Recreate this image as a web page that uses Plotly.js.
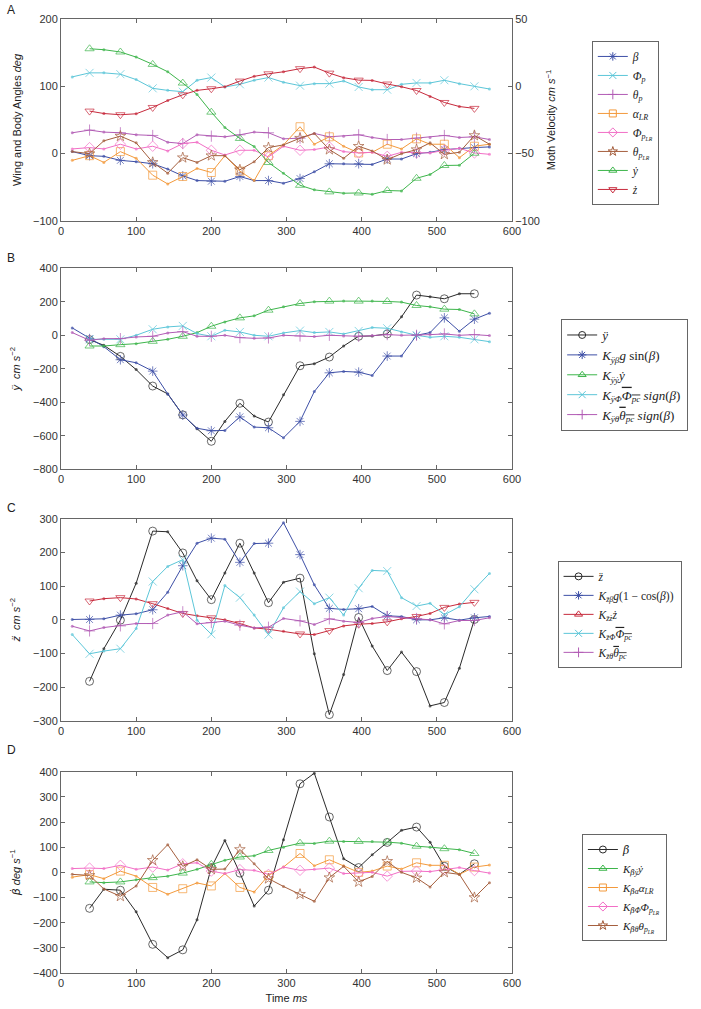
<!DOCTYPE html>
<html>
<head>
<meta charset="utf-8">
<script src="https://cdn.plot.ly/plotly-3.0.1.min.js"></script>
<style>
  html, body { margin: 0; padding: 0; background: #fff; overflow: hidden; }
  #plot { width: 701px; height: 1009px; }
</style>
</head>
<body>
<div id="plot"></div>
<script>
// time samples (ms), shared by every panel
const time = [15, 38, 57, 79, 100, 122, 142, 162, 181, 200, 218, 238, 257, 276, 296,
              318, 337, 357, 376, 396, 414, 434, 453, 473, 491, 510, 530, 550, 570];

// A: wing and body angles (deg) and moth velocity (cm/s, right axis)
const beta     = [3, -3, -4, -10, -12, -15, -23, -33, -40, -41, -41, -34, -40, -40, -44, -37, -27, -15, -15, -15, -16, -8, -8, 0, 2, 6, 8, 9, 10];
const phiP     = [114, 120, 120, 118, 110, 97, 94, 92, 109, 113, 99, 103, 109, 113, 106, 101, 104, 104, 108, 99, 95, 95, 103, 105, 105, 109, 104, 100, 96];
const thetaP   = [31, 35, 32, 31, 28, 27, 17, 15, 28, 26, 25, 28, 32, 31, 22, 23, 30, 25, 26, 28, 24, 21, 21, 23, 24, 27, 24, 25, 21];
const alphaLR  = [-10, -3, -13, 3, -7, -32, -45, -34, -22, -28, -3, -26, -40, -3, 13, 40, 14, 25, 11, 1, 2, 14, 7, 22, 14, 14, -6, 11, 14];
const phiPLR   = [7, 9, 7, 14, 7, 11, 4, 15, 17, 5, -2, 5, 5, -5, 11, 5, 6, 10, 3, 1, 2, -4, 2, 1, 1, 5, 8, 1, -1];
const thetaPLR = [3, 0, 19, 26, 16, -13, -29, -6, -13, -3, -3, -24, -12, 9, 13, 23, 30, 6, -7, 11, 4, -9, 0, 6, 16, -1, 2, 27, 14];
const yDot     = [null, 27.9, 27.2, 25.5, 21.7, 16.3, 10.8, 2.4, -6, -19.2, -30.6, -38.7, -44.7, -56.6, -64.5, -73.5, -76.9, -78.4, -79.4, -79.2, -80.2, -77.4, -77.7, -68.3, -65.5, -58.8, -58.6, -49.7, null];
const zDot     = [null, -18.4, -20.2, -21.1, -20.4, -15.7, -10.5, -6.3, -3, -1.8, -0.3, 3.9, 7.4, 9.3, 10.8, 13.1, 14.3, 9.8, 6.4, 4.6, 4.4, 1.7, -0.3, -3.1, -7.5, -12, -15, -16.4, null];

// B: lateral acceleration terms
const yDDot   = [null, -26, -60, -126, -205, -303, -350, -475, -558, -633, -514, -406, -482, -518, -355, -182, -170, -130, -64, -6, -4, 8, 110, 240, 230, 218, 248, 248, null];
const kYBeta  = [44, -20, -68, -146, -164, -214, -350, -476, -555, -570, -568, -487, -548, -552, -612, -514, -336, -224, -216, -220, -240, -124, -124, 0, 16, 104, 24, 96, 132];
const kYY     = [null, -64, -64, -56, -50, -36, -24, -6, 16, 54, 80, 104, 116, 150, 170, 190, 200, 204, 204, 204, 204, 202, 198, 178, 170, 156, 154, 128, null];
const kYPhi   = [null, -24, -24, -24, 0, 36, 50, 56, 10, -6, 30, 20, 0, -6, 14, 28, 16, 20, 8, 26, 46, 42, 20, 0, -12, -6, -12, -24, -38];
const kYTheta = [16, -30, -20, -20, -10, -6, 14, 22, -6, -6, 0, -14, -18, -16, 0, -4, -8, 0, -4, -6, -2, 4, 0, 0, 4, 8, 0, 4, -2];

// C: vertical acceleration terms
const zDDot   = [null, -183, -86, -1, 109, 264, 262, 199, 116, 60, 139, 228, 139, 51, 112, 124, -101, -282, -163, 7, -78, -151, -96, -154, -256, -246, -144, 1, null];
const kZBeta  = [1, 1, 3, 14, 18, 30, 82, 161, 228, 243, 240, 171, 227, 228, 289, 194, 104, 34, 31, 33, 40, 12, 10, 0, 0, 6, -1, 6, 10];
const kZZ     = [null, 56, 63, 66, 62, 48, 34, 19, 12, 6, 0, -11, -24, -28, -34, -42, -44, -32, -18, -13, -11, -6, 3, 10, 19, 37, 47, 52, null];
const kZPhi   = [-44, -101, -93, -86, -26, 114, 159, 179, -1, -43, 102, 66, 14, -44, 36, 84, 48, 66, 14, 94, 147, 145, 66, 41, 49, 15, 39, 91, 138];
const kZTheta = [-19, -33, -23, -18, -11, -11, 14, 24, -12, -8, -4, -16, -24, -22, 4, -3, -14, 3, -4, -8, 4, 10, 6, 4, 0, -12, -2, -2, 6];

// D: roll rate terms
const betaDot = [null, -143, -67, -71, -157, -286, -339, -308, -188, 19, 127, -3, -134, -71, 130, 352, 394, 220, 54, 19, 70, 119, 167, 180, 120, 24, -8, 34, null];
const kBY     = [null, -38, -41, -38, -29, -21, -15, -3, 12, 32, 48, 61, 66, 87, 100, 116, 115, 124, 123, 123, 123, 120, 116, 104, 100, 94, 90, 75, null];
const kBAlpha = [-19, -9, -25, 5, -15, -60, -87, -65, -42, -54, -5, -60, -78, -12, 21, 75, 26, 50, 26, 0, 5, 25, 13, 38, 28, 28, -8, 21, 29];
const kBPhi   = [15, 17, 15, 28, 12, 21, 9, 34, 38, 5, -5, 11, 8, -8, 21, 8, 12, 17, -5, -3, 0, -15, 4, 5, 3, 11, 19, 7, -3];
const kBTheta = [-8, -12, -66, -95, -54, 48, 110, 24, 50, 12, 13, 91, 34, -25, -56, -87, -115, -21, 24, -38, -16, 44, 0, -22, -58, 0, -8, -100, -41];

// colours
const cBlue = '#3d4fa6', cCyan = '#5cc6d8', cPurple = '#b25cb5', cOrange = '#f39a3c',
      cPink = '#f26fc6', cBrown = '#a55f3e', cGreen = '#3db54b', cRed = '#c72a3c', cBlack = '#2a2a2a';

const traces = [];

// one series: line with small dots, a big symbol every second sample,
// plus an empty trace that only carries the legend entry
function series(ys, name, color, symbol, legend, xa, ya, legendSymbol) {
    traces.push({
        x: time, y: ys, xaxis: xa, yaxis: ya,
        mode: 'lines+markers', showlegend: false,
        line: { color: color, width: 1 },
        marker: {
            color: color,
            symbol: time.map((t, i) => i % 2 === 1 ? symbol : 'circle'),
            size: time.map((t, i) => i % 2 === 1 ? 8 : 3),
            line: { width: 0 }
        },
        hoverinfo: 'skip'
    });
    traces.push({
        x: [null], y: [null], xaxis: xa, yaxis: ya,
        mode: 'lines+markers', name: name, legend: legend,
        line: { color: color, width: 1 },
        marker: { color: color, symbol: legendSymbol || symbol, size: 7, line: { width: 0 } }
    });
}

const ov = s => '<span style="text-decoration:overline">' + s + '</span>';
// dotted beta needs a font with good combining marks
const bDot = '<span style="font-family:DejaVu Serif">β̇</span>';

series(beta,     '<i>β</i>', cBlue, 'asterisk-open', 'legend', 'x', 'y');
series(phiP,     '<i>Φ<sub>p</sub></i>', cCyan, 'x-thin-open', 'legend', 'x', 'y');
series(thetaP,   '<i>θ<sub>p</sub></i>', cPurple, 'cross-thin-open', 'legend', 'x', 'y');
series(alphaLR,  '<i>α<sub>LR</sub></i>', cOrange, 'square-open', 'legend', 'x', 'y');
series(phiPLR,   '<i>Φ<sub>p<sub>LR</sub></sub></i>', cPink, 'diamond-open', 'legend', 'x', 'y');
series(thetaPLR, '<i>θ<sub>p<sub>LR</sub></sub></i>', cBrown, 'star-open', 'legend', 'x', 'y');
series(yDot,     '<i>ẏ</i>', cGreen, 'triangle-up-open', 'legend', 'x', 'y2');
series(zDot,     '<i>ż</i>', cRed, 'triangle-down-open', 'legend', 'x', 'y2');

series(yDDot,   '<i>ÿ</i>', cBlack, 'circle-open', 'legend2', 'x2', 'y3');
series(kYBeta,  '<i>K<sub>ÿβ</sub>g</i> sin(<i>β</i>)', cBlue, 'asterisk-open', 'legend2', 'x2', 'y3');
series(kYY,     '<i>K<sub>ÿẏ</sub>ẏ</i>', cGreen, 'triangle-up-open', 'legend2', 'x2', 'y3');
series(kYPhi,   '<i>K<sub>ÿΦ</sub>' + ov('Φ<sub>pc</sub>') + ' sign</i>(<i>β</i>)', cCyan, 'x-thin-open', 'legend2', 'x2', 'y3');
series(kYTheta, '<i>K<sub>ÿθ</sub>' + ov('θ<sub>pc</sub>') + ' sign</i>(<i>β</i>)', cPurple, 'cross-thin-open', 'legend2', 'x2', 'y3');

series(zDDot,   '<i>z̈</i>', cBlack, 'circle-open', 'legend3', 'x3', 'y4');
series(kZBeta,  '<i>K<sub>z̈β</sub>g</i>(1 − cos(<i>β</i>))', cBlue, 'asterisk-open', 'legend3', 'x3', 'y4');
series(kZZ,     '<i>K<sub>z̈ż</sub>ż</i>', cRed, 'triangle-down-open', 'legend3', 'x3', 'y4', 'triangle-up-open');
series(kZPhi,   '<i>K<sub>z̈Φ</sub>' + ov('Φ<sub>pc</sub>') + '</i>', cCyan, 'x-thin-open', 'legend3', 'x3', 'y4');
series(kZTheta, '<i>K<sub>z̈θ</sub>' + ov('θ<sub>pc</sub>') + '</i>', cPurple, 'cross-thin-open', 'legend3', 'x3', 'y4');

series(betaDot, '<i>' + bDot + '</i>', cBlack, 'circle-open', 'legend4', 'x4', 'y5');
series(kBY,     '<i>K<sub>' + bDot + 'ẏ</sub>ẏ</i>', cGreen, 'triangle-up-open', 'legend4', 'x4', 'y5');
series(kBAlpha, '<i>K<sub>' + bDot + 'α</sub>α<sub>LR</sub></i>', cOrange, 'square-open', 'legend4', 'x4', 'y5');
series(kBPhi,   '<i>K<sub>' + bDot + 'Φ</sub>Φ<sub>p<sub>LR</sub></sub></i>', cPink, 'diamond-open', 'legend4', 'x4', 'y5');
series(kBTheta, '<i>K<sub>' + bDot + 'θ</sub>θ<sub>p<sub>LR</sub></sub></i>', cBrown, 'star-open', 'legend4', 'x4', 'y5');

const tickFont = { family: 'Liberation Sans, Arial, sans-serif', size: 11, color: '#333' };
const axisBase = {
    showline: true, linecolor: '#666', linewidth: 1, mirror: 'ticks',
    ticks: 'inside', ticklen: 4, tickcolor: '#666', automargin: false,
    showgrid: false, zeroline: false, tickfont: tickFont
};
const xBase = Object.assign({}, axisBase, { range: [0, 600], dtick: 100, domain: [0, 1] });
const titleFont = { family: 'Liberation Sans, Arial, sans-serif', size: 11, color: '#222' };
const legendFont = size => ({ family: 'Liberation Serif, serif', size: size, color: '#222' });
const legendBase = {
    bgcolor: '#fff', bordercolor: '#666', borderwidth: 1,
    xanchor: 'left', yanchor: 'top', tracegroupgap: 0
};
const panelFont = { family: 'Liberation Sans, Arial, sans-serif', size: 12, color: '#222' };

const layout = {
    width: 701, height: 1009, autosize: false,
    margin: { l: 61, r: 189, t: 19, b: 36 },
    paper_bgcolor: '#fff', plot_bgcolor: '#fff',
    showlegend: true,
    xaxis:  Object.assign({}, xBase, { anchor: 'y' }),
    yaxis:  Object.assign({}, axisBase, { domain: [0.7883, 1], range: [-100, 200], dtick: 100, anchor: 'x', mirror: true,
              title: { text: 'Wing and Body Angles <i>deg</i>', font: titleFont, standoff: 9 } }),
    yaxis2: Object.assign({}, axisBase, { overlaying: 'y', side: 'right', anchor: 'x', range: [-100, 50], dtick: 50, mirror: false,
              title: { text: 'Moth Velocity <i>cm s</i><sup>−1</sup>', font: titleFont, standoff: 8 } }),
    xaxis2: Object.assign({}, xBase, { anchor: 'y3' }),
    yaxis3: Object.assign({}, axisBase, { domain: [0.528, 0.7387], range: [-800, 400], dtick: 200, anchor: 'x2',
              title: { text: '<i>ÿ  cm s</i><sup>−2</sup>', font: titleFont, standoff: 10 } }),
    xaxis3: Object.assign({}, xBase, { anchor: 'y4' }),
    yaxis4: Object.assign({}, axisBase, { domain: [0.2645, 0.4759], range: [-300, 300], dtick: 100, anchor: 'x3',
              title: { text: '<i>z̈  cm s</i><sup>−2</sup>', font: titleFont, standoff: 10 } }),
    xaxis4: Object.assign({}, xBase, { anchor: 'y5',
              title: { text: 'Time <i>ms</i>', font: titleFont, standoff: 6 } }),
    yaxis5: Object.assign({}, axisBase, { domain: [0, 0.211], range: [-400, 400], dtick: 100, anchor: 'x4',
              title: { text: '<i><span style="font-family:DejaVu Sans">β̇</span> deg s</i><sup>−1</sup>', font: titleFont, standoff: 10 } }),
    legend:  Object.assign({}, legendBase, { x: 1.177, y: 0.977, font: legendFont(11.5) }),
    legend2: Object.assign({}, legendBase, { x: 1.109, y: 0.6855, font: legendFont(13) }),
    legend3: Object.assign({}, legendBase, { x: 1.101, y: 0.432, font: legendFont(11.5) }),
    legend4: Object.assign({}, legendBase, { x: 1.155, y: 0.1457, font: legendFont(11) }),
    annotations: [
        { text: 'A', x: -0.124, y: 1.0094 },
        { text: 'B', x: -0.124, y: 0.7495 },
        { text: 'C', x: -0.124, y: 0.4874 },
        { text: 'D', x: -0.124, y: 0.2338 }
    ].map(a => Object.assign(a, { xref: 'paper', yref: 'paper', showarrow: false, xanchor: 'left', yanchor: 'middle', font: panelFont }))
};

Plotly.newPlot('plot', traces, layout, { staticPlot: true });
</script>
</body>
</html>
